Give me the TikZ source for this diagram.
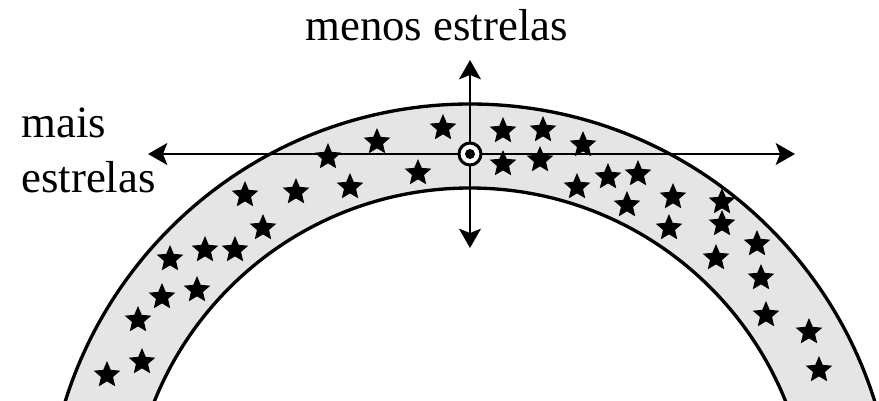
\documentclass[tikz,border=0pt]{standalone}
\usepackage{fontspec}
\setmainfont{Liberation Serif}
\usetikzlibrary{arrows.meta,shapes.geometric}

\begin{document}
\begin{tikzpicture}[
  x=0.02cm, y=0.02cm,
  % the galactic disc seen edge-on: a grey band between two circles
  band/.style={fill=black!10,draw=none},
  rim/.style={line width=1.9pt},
  axis/.style={line width=1.1pt,-{Stealth[length=11pt,width=12.5pt,inset=2.5pt]}},
  starmark/.style={star,star points=5,star point ratio=2.2,fill=black,
                   inner sep=0pt,minimum size=0.56cm},
  lbl/.style={font=\fontsize{25.5}{30}\selectfont,inner sep=0pt},
]

%--- geometry ----------------------------------------------------------------
\def\xc{470}     % centre of the disc circles
\def\yc{-128}
\def\rout{424}   % outer edge of the band
\def\rin{340}    % inner edge of the band

\useasboundingbox (0,0) rectangle (879,400);

%--- the band ----------------------------------------------------------------
\begin{scope}
  \clip (0,0) rectangle (879,400);
  \fill[band,even odd rule] (\xc,\yc) circle (\rout) (\xc,\yc) circle (\rin);
  \draw[rim] (\xc,\yc) circle (\rout);
  \draw[rim] (\xc,\yc) circle (\rin);
\end{scope}

%--- stars -------------------------------------------------------------------
\foreach \x/\y [count=\i] in {
    107/25, 142/38, 138/80, 162/103, 197/110, 170/141, 205/150, 235/150,
    263/172, 245/205, 296/208, 350/213, 328/243, 377/258, 418/227, 443/272,
    503/269, 543/270, 583/255, 503/236, 540/240, 577/213, 608/223, 638/226,
    627/195, 673/203, 669/172, 722/198, 722/176, 716/142, 757/156, 761/122,
    766/85, 809/68, 819/30}
  \node[starmark] (s\i) at (\x,\y) {};

%--- observer and the two directions -----------------------------------------
\node[circle,draw,line width=1.7pt,fill=white,minimum size=0.44cm,inner sep=0pt]
  (sun) at (470,246) {};
\coordinate (west)  at (148,246);
\coordinate (east)  at (795,246);
\coordinate (north) at (470,340);
\coordinate (south) at (470,152);

\draw[axis] (sun) -- (west);
\draw[axis] (sun) -- (east);
\draw[axis] (sun) -- (north);
\draw[axis] (sun) -- (south);
\fill (sun.center) circle (5);

%--- labels ------------------------------------------------------------------
\node[lbl,anchor=base west] (menos) at (305,360) {menos estrelas};
\node[lbl,anchor=base west] (mais)  at (21,263)  {mais};
\node[lbl,anchor=base west] (maisb) at (21,208)  {estrelas};

\end{tikzpicture}
\end{document}
